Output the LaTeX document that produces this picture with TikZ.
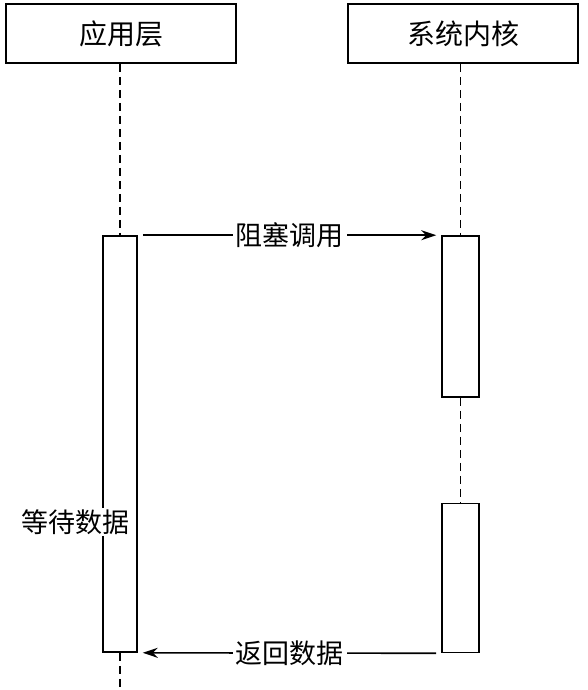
\documentclass[tikz,border=0pt]{standalone}
\usepackage{fontspec}
\newfontfamily\cjk{Noto Sans CJK SC}
\usetikzlibrary{arrows.meta}
\begin{document}
\begin{tikzpicture}[x=1pt,y=1pt,
  head/.style={draw,line width=1.6pt,minimum width=230pt,minimum height=59pt,inner sep=0pt,font=\cjk\fontsize{28}{30}\selectfont},
  act/.style={draw,line width=1.6pt,fill=white,minimum width=34pt,inner sep=0pt},
  life/.style={line width=1.4pt,dash pattern=on 8pt off 5pt},
  msg/.style={line width=1.6pt,-{Stealth[length=15pt,width=10pt]},shorten <=5pt,shorten >=5pt},
  lbl/.style={fill=white,inner sep=3pt,font=\cjk\fontsize{27}{29}\selectfont}]
\useasboundingbox (0,0) rectangle (588,690);
\node[head] (h1) at (121,656.5) {应用层};
\node[head] (h2) at (463,656.5) {系统内核};
\node[act,minimum height=416pt] (a1) at (120,246) {};
\node[act,minimum width=37pt,minimum height=161pt] (a2) at (460.5,373.5) {};
\node[act,minimum width=37pt,minimum height=149pt] (a3) at (460.5,112) {};
\coordinate (e1) at (120,0);
\draw[life] (h1.south -| a1.north) -- (a1.north);
\draw[life] (a1.south) -- (e1);
\draw[life] (h2.south -| a2.north) -- (a2.north);
\draw[life] (a2.south) -- (a3.north);
\draw[msg] (a1.north east) -- node[lbl] {阻塞调用} (a2.north west);
\draw[msg] (a3.south west) -- node[lbl] {返回数据} (a1.south east);
\node[lbl,inner sep=1pt] (w) at (75,168) {等待数据};
\end{tikzpicture}
\end{document}
